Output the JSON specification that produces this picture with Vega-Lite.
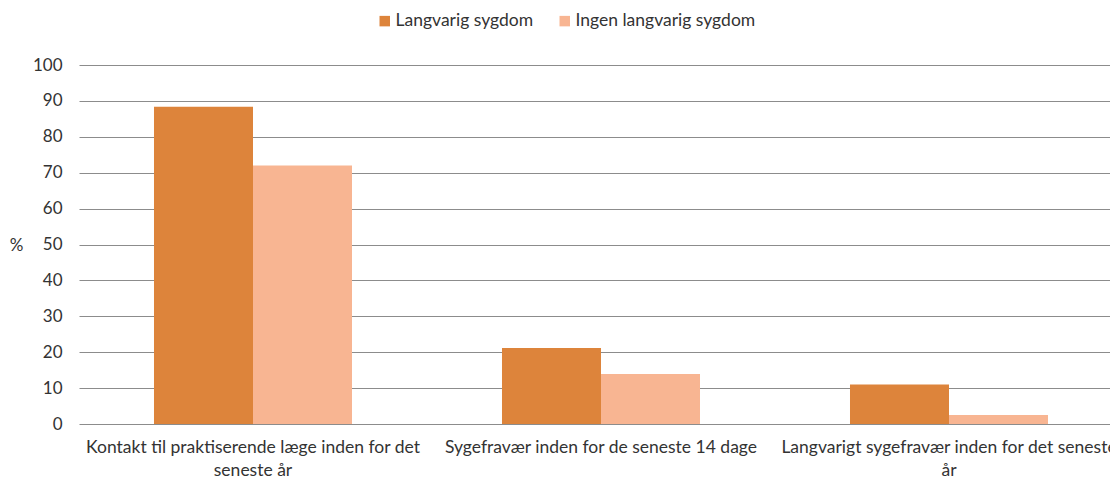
{
  "$schema": "https://vega.github.io/schema/vega-lite/v6.json",
  "width": 1044,
  "height": 359,
  "autosize": "none",
  "padding": {"left": 79, "top": 65, "right": 0, "bottom": 53},
  "background": "white",
  "config": {
    "view": {"stroke": null},
    "font": "Lato",
    "axis": {"labelFont": "Lato", "titleFont": "Lato", "labelColor": "#333333", "titleColor": "#333333"},
    "legend": {"labelFont": "Lato"}
  },
  "data": {
    "values": [
      {"kategori": "Kontakt til praktiserende læge inden for det seneste år", "gruppe": "Langvarig sygdom", "pct": 88.4},
      {"kategori": "Kontakt til praktiserende læge inden for det seneste år", "gruppe": "Ingen langvarig sygdom", "pct": 72.0},
      {"kategori": "Sygefravær inden for de seneste 14 dage", "gruppe": "Langvarig sygdom", "pct": 21.2},
      {"kategori": "Sygefravær inden for de seneste 14 dage", "gruppe": "Ingen langvarig sygdom", "pct": 13.9},
      {"kategori": "Langvarigt sygefravær inden for det seneste år", "gruppe": "Langvarig sygdom", "pct": 11.0},
      {"kategori": "Langvarigt sygefravær inden for det seneste år", "gruppe": "Ingen langvarig sygdom", "pct": 2.5}
    ]
  },
  "mark": {"type": "bar"},
  "encoding": {
    "x": {
      "field": "kategori",
      "type": "nominal",
      "sort": null,
      "scale": {"paddingInner": 0.431, "paddingOuter": 0.2155},
      "axis": {
        "title": null,
        "ticks": false,
        "domain": false,
        "labelAngle": 0,
        "labelLimit": 0,
        "labelFontSize": 17.5,
        "labelPadding": 14,
        "labelLineHeight": 23,
        "labelExpr": "datum.value == 'Kontakt til praktiserende læge inden for det seneste år' ? ['Kontakt til praktiserende læge inden for det', 'seneste år'] : datum.value == 'Langvarigt sygefravær inden for det seneste år' ? ['Langvarigt sygefravær inden for det seneste', 'år'] : datum.value"
      }
    },
    "xOffset": {"field": "gruppe", "type": "nominal", "sort": ["Langvarig sygdom", "Ingen langvarig sygdom"], "scale": {"paddingInner": 0, "paddingOuter": 0}},
    "y": {
      "field": "pct",
      "type": "quantitative",
      "scale": {"domain": [0, 100]},
      "axis": {
        "title": "%",
        "titleAngle": 0,
        "titleX": -63,
        "titleY": 180,
        "titleAlign": "center",
        "titleBaseline": "middle",
        "titleFontSize": 17,
        "titleFontWeight": "normal",
        "values": [0, 10, 20, 30, 40, 50, 60, 70, 80, 90, 100],
        "domain": false,
        "ticks": false,
        "labelFontSize": 17,
        "labelPadding": 17,
        "grid": true,
        "gridColor": "#8c8c8c",
        "gridWidth": 1.2,
        "gridOpacity": 1
      }
    },
    "color": {
      "field": "gruppe",
      "type": "nominal",
      "sort": ["Langvarig sygdom", "Ingen langvarig sygdom"],
      "scale": {"domain": ["Langvarig sygdom", "Ingen langvarig sygdom"], "range": ["#dd843b", "#f8b592"]},
      "legend": {
        "title": null,
        "orient": "none",
        "direction": "horizontal",
        "legendX": 297,
        "legendY": -53,
        "symbolType": "square",
        "symbolSize": 110,
        "symbolStrokeWidth": 0,
        "labelFontSize": 17.5,
        "labelColor": "#333333",
        "labelOffset": 2,
        "columnPadding": 22,
        "labelLimit": 0
      }
    }
  }
}
